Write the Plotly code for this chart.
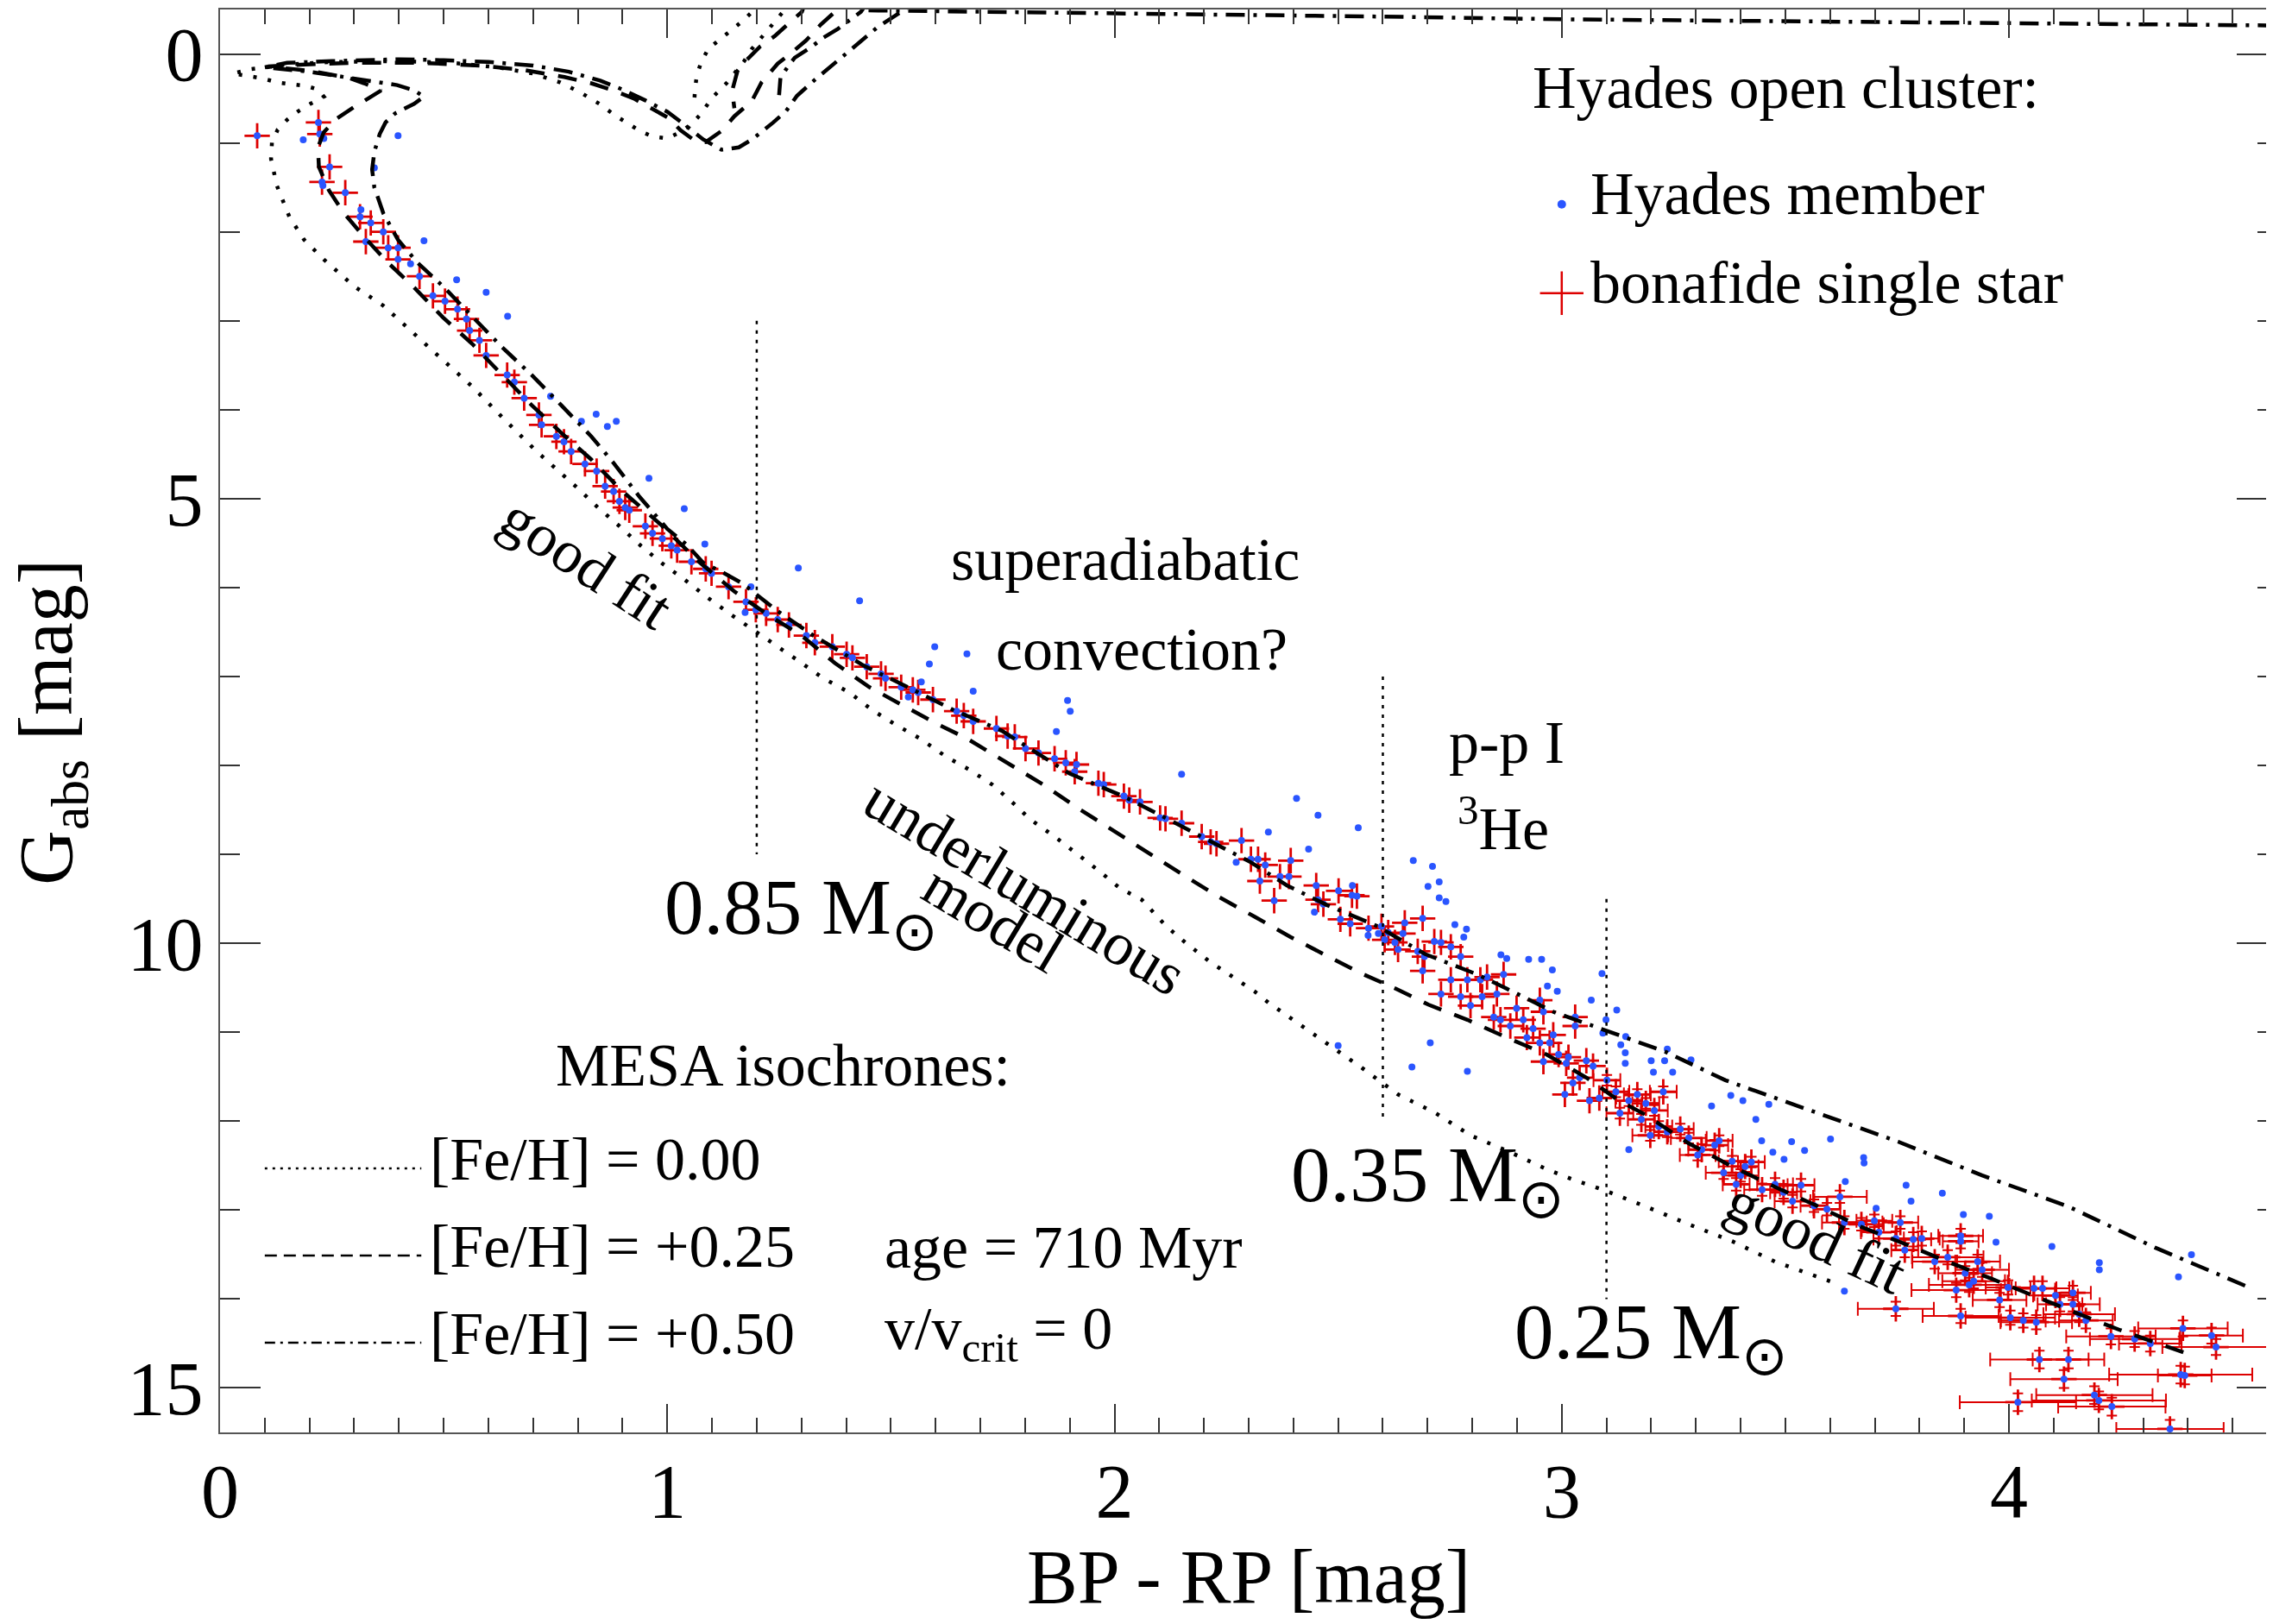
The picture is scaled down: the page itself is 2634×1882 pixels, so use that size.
import plotly.graph_objects as go

FONT = "Liberation Serif, Times New Roman, serif"
RED = "#dd0000"
BLUE = "#2a55ff"

# bonafide single stars, BP-RP [mag] and G_abs [mag] (bright / intermediate part)
RED_X = [0.083, 0.22, 0.223, 0.245, 0.228, 0.28, 0.313, 0.337, 0.365, 0.326, 0.376, 0.398, 0.398,
         0.446, 0.476, 0.503, 0.531, 0.551, 0.558, 0.58, 0.595, 0.642, 0.658, 0.68, 0.713, 0.719,
         0.752, 0.769, 0.785,
         0.816, 0.842, 0.861, 0.88, 0.893, 0.906, 0.915, 0.951, 0.967, 0.989, 1.009, 1.022, 1.054,
         1.086, 1.099, 1.137, 1.176, 1.198, 1.221, 1.247, 1.272, 1.311, 1.33, 1.369, 1.401, 1.414,
         1.446, 1.478, 1.488, 1.523, 1.549, 1.561,
         1.594, 1.647, 1.663, 1.684, 1.736, 1.761, 1.777, 1.801, 1.83, 1.866, 1.891, 1.915, 1.911,
         1.964, 1.976, 2.021, 2.033, 2.057, 2.102, 2.114, 2.15, 2.195, 2.215, 2.228, 2.284, 2.305,
         2.321, 2.337, 2.325, 2.37, 2.39, 2.394, 2.357, 2.451, 2.455, 2.467,
         2.501, 2.531, 2.542, 2.505, 2.527, 2.568, 2.597, 2.612, 2.649, 2.645, 2.689, 2.604, 2.634,
         2.627, 2.678, 2.693, 2.689, 2.715, 2.73, 2.752, 2.774, 2.73, 2.752, 2.774, 2.796, 2.789,
         2.818, 2.833, 2.822, 2.855, 2.87, 2.848, 2.863, 2.885, 2.899, 2.914, 2.922, 2.936, 2.951,
         2.959, 2.981, 2.973, 2.951, 2.959, 2.993, 3.015, 3.03, 3.03, 3.055, 3.07, 3.01, 3.04,
         3.025, 3.007, 3.062, 3.084]
RED_Y = [0.92, 0.77, 0.90, 1.27, 1.44, 1.56, 1.83, 1.90, 2.0, 2.11, 2.18, 2.18, 2.31,
         2.50, 2.72, 2.78, 2.87, 2.98, 3.11, 3.22, 3.39, 3.61, 3.69, 3.87, 4.06, 4.17,
         4.30, 4.36, 4.47,
         4.61, 4.69, 4.86, 4.92, 5.03, 5.10, 5.13, 5.31, 5.39, 5.45, 5.53, 5.58, 5.71,
         5.79, 5.84, 5.99, 6.16, 6.25, 6.29, 6.36, 6.42, 6.54, 6.62, 6.665, 6.75, 6.79,
         6.89, 6.97, 7.02, 7.12, 7.15, 7.18,
         7.26, 7.39, 7.44, 7.505, 7.585, 7.67, 7.68, 7.81, 7.86, 7.925, 7.97, 7.99, 8.07,
         8.2, 8.215, 8.345, 8.39, 8.41, 8.59, 8.6, 8.65, 8.8, 8.86, 8.88, 8.845, 9.055,
         9.055, 9.12, 9.3, 9.25, 9.25, 9.07, 9.52, 9.35, 9.51, 9.56,
         9.41, 9.46, 9.47, 9.73, 9.78, 9.83, 9.81, 9.88, 9.77, 9.89, 9.72, 9.96, 10.07,
         9.99, 10.09, 10.15, 10.31, 9.98, 9.99, 10.04, 10.15, 10.57, 10.41, 10.6, 10.7, 10.41,
         10.41, 10.38, 10.6, 10.57, 10.35, 10.83, 10.86, 10.93, 10.73, 10.86, 11.06, 10.96, 10.64,
         10.77, 11.03, 11.12, 11.12, 11.33, 11.25, 11.28, 10.83, 10.93, 11.32, 11.38, 11.35, 11.51,
         11.57, 11.70, 11.77, 11.74]

# faint bonafide single stars with their errors
FAINT_X = [3.101, 3.121, 3.15, 3.169, 3.188, 3.207, 3.227, 3.13, 3.178, 3.217, 3.198, 3.236, 3.265,
           3.284, 3.313, 3.342, 3.352, 3.304, 3.381, 3.362, 3.41, 3.424, 3.40, 3.39, 3.448, 3.477,
           3.496, 3.535, 3.516, 3.564, 3.593, 3.622, 3.632, 3.67, 3.699, 3.709, 3.757, 3.747, 3.786,
           3.805, 3.767, 3.834, 3.863, 3.892, 3.892, 3.902, 3.921, 3.93, 3.94, 3.911, 3.882, 3.747,
           3.892, 3.979, 3.998, 4.003, 4.032, 4.056, 4.075, 4.061, 4.104, 4.114, 4.143, 4.143, 4.157,
           4.172, 4.228, 4.281, 4.316, 4.389, 4.453, 4.463, 4.068, 4.133, 4.123, 4.384, 4.393, 4.02,
           4.191, 4.201, 4.23, 4.36]
FAINT_Y = [11.54, 11.67, 11.77, 11.70, 11.80, 11.88, 11.67, 11.91, 11.98, 12.06, 12.16, 12.12, 12.09,
           12.19, 12.32, 12.27, 12.22, 12.38, 12.45, 12.58, 12.51, 12.46, 12.61, 12.71, 12.77, 12.71,
           12.80, 12.72, 12.90, 12.95, 12.99, 12.85, 13.14, 13.16, 13.12, 13.25, 13.14, 13.32, 13.33,
           13.32, 13.45, 13.58, 13.53, 13.29, 13.35, 13.71, 13.80, 13.58, 13.67, 13.84, 13.90, 14.11,
           14.19, 14.01, 13.87, 14.21, 14.24, 13.88, 13.88, 14.26, 13.96, 14.06, 13.93, 14.06, 14.17,
           14.24, 14.42, 14.45, 14.50, 14.33, 14.41, 14.54, 14.68, 14.68, 14.90, 14.85, 14.86, 15.16,
           15.08, 15.14, 15.21, 15.46]
FAINT_EX = [0.03, 0.03, 0.03, 0.03, 0.03, 0.03, 0.03, 0.03, 0.03, 0.03, 0.04, 0.03, 0.03,
            0.04, 0.03, 0.03, 0.03, 0.04, 0.03, 0.04, 0.03, 0.03, 0.04, 0.03, 0.04, 0.04,
            0.03, 0.03, 0.04, 0.03, 0.03, 0.06, 0.05, 0.05, 0.04, 0.04, 0.04, 0.05, 0.04,
            0.04, 0.03, 0.05, 0.08, 0.05, 0.04, 0.06, 0.07, 0.05, 0.06, 0.09, 0.10, 0.085,
            0.085, 0.06, 0.05, 0.10, 0.05, 0.05, 0.06, 0.08, 0.05, 0.05, 0.04, 0.06, 0.08,
            0.06, 0.10, 0.10, 0.07, 0.10, 0.07, 0.12, 0.11, 0.08, 0.12, 0.16, 0.06, 0.13,
            0.13, 0.15, 0.12, 0.12]
FAINT_EY = [0.06, 0.06, 0.06, 0.06, 0.06, 0.06, 0.06, 0.06, 0.06, 0.06, 0.06, 0.06, 0.06,
            0.06, 0.06, 0.06, 0.06, 0.06, 0.06, 0.07, 0.06, 0.06, 0.07, 0.07, 0.07, 0.07,
            0.07, 0.07, 0.07, 0.07, 0.07, 0.07, 0.07, 0.07, 0.07, 0.07, 0.07, 0.08, 0.08,
            0.08, 0.08, 0.08, 0.08, 0.08, 0.08, 0.08, 0.08, 0.08, 0.08, 0.08, 0.08, 0.08,
            0.08, 0.08, 0.08, 0.08, 0.08, 0.08, 0.08, 0.08, 0.08, 0.08, 0.08, 0.08, 0.09,
            0.09, 0.09, 0.09, 0.09, 0.09, 0.09, 0.09, 0.10, 0.10, 0.10, 0.10, 0.10, 0.10,
            0.10, 0.10, 0.10, 0.10]

# Hyades members that are not bonafide single stars
EXTRA_X = [0.186, 0.232, 0.398, 0.345, 0.23, 0.315, 0.456, 0.426, 0.529, 0.595, 0.643, 0.739, 0.841,
           0.808, 0.866, 0.886,
           0.959, 1.038, 1.084, 1.187, 1.174, 1.293, 1.43, 1.539,
           1.598, 1.67, 1.586, 1.568, 1.684, 1.895, 1.901, 1.87, 2.15, 2.407, 2.455, 2.344, 2.545,
           2.434, 2.272, 2.668, 2.711, 2.532, 2.701, 2.447,
           2.726, 2.726, 2.741, 2.761, 2.787, 2.781, 2.864, 2.877, 2.926, 2.955, 2.979, 2.968, 2.99,
           3.09, 3.066, 3.123, 3.099, 3.092, 3.143, 2.5, 2.706, 2.665, 2.789, 2.567, 2.59,
           3.132, 3.142, 3.236, 3.289, 3.2, 3.23, 3.142, 3.205, 3.248, 3.378, 3.405, 3.463, 3.335,
           3.434, 3.447, 3.514, 3.601, 3.472, 3.543, 3.497, 3.675, 3.676, 3.634, 3.77, 3.851, 3.781,
           3.703, 3.898, 3.956, 3.971, 4.096, 4.408, 4.202, 4.202, 4.379, 3.15, 3.632]
EXTRA_Y = [0.965, 0.95, 0.92, 1.28, 1.48, 1.75, 2.10, 2.36, 2.54, 2.68, 2.95, 3.85, 4.05,
           4.13, 4.19, 4.13,
           4.77, 5.114, 5.51, 5.99, 6.28, 5.78, 6.15, 7.23,
           6.665, 6.745, 6.86, 7.06, 7.165, 7.27, 7.39, 7.62, 8.1, 8.37, 8.56, 8.75, 8.7,
           8.94, 9.09, 9.07, 9.135, 9.35, 9.36, 9.65,
           9.31, 9.49, 9.53, 9.79, 9.84, 9.93, 10.13, 10.17, 10.18, 10.18, 10.30, 10.48, 10.54,
           10.34, 10.64, 10.75, 10.86, 11.01, 11.05, 11.15, 11.12, 11.39, 11.44, 9.91, 9.89,
           11.14, 11.23, 11.19, 11.31, 11.32, 11.32, 11.35, 11.45, 11.45, 11.71, 11.77, 11.81, 11.83,
           11.98, 12.22, 12.23, 12.2, 12.35, 12.33, 12.43, 12.41, 12.47, 12.68, 12.72, 12.81, 12.9,
           12.98, 13.05, 13.07, 13.36, 13.41, 13.5, 13.59, 13.67, 13.75, 12.32, 13.91]

# MESA isochrones, 710 Myr; None separates branches
ISO_000_X = [3.6, 3.477, 3.381, 3.284, 3.188, 3.092, 3.032, 2.966, 2.885, 2.796, 2.715, 2.634, 2.553,
             2.501, 2.42, 2.345, 2.313, 2.264, 2.211, 2.158, 2.114, 2.061, 2.012, 1.964, 1.915, 1.866,
             1.81, 1.777, 1.728, 1.676, 1.623, 1.566, 1.51, 1.459, 1.407, 1.349, 1.298, 1.247, 1.195,
             1.144, 1.092, 1.041, 0.989, 0.941, 0.893, 0.845, 0.797, 0.708, 0.63, 0.564, 0.487, 0.42,
             0.365, 0.299, 0.232, 0.188, 0.155, 0.127, 0.114, 0.116, 0.129, 0.15, 0.176, 0.202, 0.232,
             0.219, 0.193, 0.159, 0.129, 0.09, 0.064, 0.028,
             0.07, 0.15, 0.25, 0.4, 0.52, 0.62, 0.7, 0.761, 0.805, 0.848, 0.883, 0.913, 0.94, 0.968,
             1.0, 1.028, 1.054, 1.076, 1.099, 1.134, 1.156, 1.172, 1.188, 1.208, 1.227, 1.253, 1.28,
             None, 1.2, 1.189, 1.166, 1.14, 1.115, 1.092, 1.076, 1.066, 1.062, 1.06]
ISO_000_Y = [13.8, 13.58, 13.35, 13.16, 12.96, 12.77, 12.67, 12.54, 12.35, 12.16, 11.9, 11.7, 11.4,
             11.22, 10.93, 10.67, 10.54, 10.38, 10.2, 9.99, 9.8, 9.51, 9.38, 9.18, 8.99, 8.8,
             8.6, 8.44, 8.22, 8.05, 7.9, 7.7, 7.54, 7.38, 7.18, 7.02, 6.84, 6.665, 6.49,
             6.31, 6.12, 5.92, 5.73, 5.53, 5.31, 5.1, 4.87, 4.47, 4.08, 3.74, 3.39, 3.09,
             2.83, 2.61, 2.31, 2.09, 1.83, 1.48, 1.18, 0.996, 0.85, 0.74, 0.64, 0.56, 0.48,
             0.40, 0.36, 0.34, 0.32, 0.27, 0.253, 0.22,
             0.17, 0.12, 0.09, 0.08, 0.1, 0.15, 0.22, 0.32, 0.43, 0.56, 0.69, 0.79, 0.87, 0.93,
             0.95, 0.88, 0.79, 0.67, 0.5, 0.32, 0.19, 0.08, -0.05, -0.17, -0.29, -0.44, -0.6,
             None, -0.6, -0.47, -0.36, -0.25, -0.15, -0.06, 0.09, 0.24, 0.4, 0.56]

ISO_025_X = [4.39, 4.249, 4.152, 4.056, 3.96, 3.863, 3.767, 3.67, 3.574, 3.477, 3.381, 3.284, 3.188,
             3.128, 3.055, 2.966, 2.877, 2.789, 2.702, 2.629, 2.548, 2.467, 2.394, 2.313, 2.232, 2.15,
             2.077, 1.996, 1.915, 1.842, 1.761, 1.671, 1.598, 1.533, 1.452, 1.375, 1.3, 1.22, 1.149,
             1.073, 0.985, 0.896, 0.83, 0.763, 0.697, 0.631, 0.564, 0.498, 0.431, 0.376, 0.321, 0.277,
             0.243, 0.221, 0.219, 0.232, 0.26, 0.299, 0.33, 0.36, 0.322, 0.288, 0.202, 0.107,
             0.18, 0.3, 0.45, 0.58, 0.68, 0.77, 0.83, 0.873, 0.925, 0.97, 1.003, 1.03, 1.06, 1.086,
             1.121, 1.15, 1.189, 1.211, 1.247, 1.272, 1.31, 1.343, 1.372, 1.39,
             None, 1.31, 1.301, 1.279, 1.24, 1.208, 1.176, 1.157, 1.145, 1.15]
ISO_025_Y = [14.6, 14.35, 14.16, 13.96, 13.77, 13.58, 13.38, 13.19, 12.96, 12.74, 12.51, 12.25, 11.93,
             11.77, 11.51, 11.25, 11.06, 10.86, 10.69, 10.51, 10.33, 10.12, 9.93, 9.7, 9.475, 9.22,
             8.99, 8.73, 8.47, 8.22, 7.97, 7.7, 7.52, 7.34, 7.12, 6.85, 6.54, 6.29, 6.04,
             5.72, 5.29, 4.9, 4.56, 4.26, 3.95, 3.61, 3.26, 2.96, 2.61, 2.35, 2.05, 1.79,
             1.53, 1.27, 1.05, 0.88, 0.73, 0.60, 0.5, 0.41, 0.33, 0.27, 0.19, 0.14,
             0.12, 0.1, 0.1, 0.13, 0.18, 0.26, 0.33, 0.4, 0.5, 0.62, 0.72, 0.86, 0.97, 0.99,
             0.867, 0.7, 0.53, 0.318, 0.108, 0.011, -0.15, -0.33, -0.46, -0.6,
             None, -0.6, -0.474, -0.377, -0.2, -0.086, 0.075, 0.19, 0.415, 0.61]

ISO_050_X = [4.528, 4.509, 4.326, 4.133, 3.94, 3.752, 3.555, 3.366, 3.232, 3.099, 2.981, 2.877, 2.811,
             2.694, 2.589, 2.475, 2.386, 2.305, 2.207, 2.118, 2.021, 1.899, 1.748, 1.637, 1.55, 1.44,
             1.327, 1.245, 1.17, 1.128, 1.08, 1.044, 1.0, 0.973, 0.938, 0.88, 0.83, 0.763, 0.697,
             0.631, 0.564, 0.498, 0.442, 0.398, 0.365, 0.345, 0.34, 0.345, 0.357, 0.37, 0.391, 0.434,
             0.456, 0.434, 0.396, 0.3, 0.2, 0.1,
             0.15, 0.25, 0.4, 0.5, 0.6, 0.7, 0.78, 0.85, 0.9, 0.95, 1.0, 1.04, 1.08, 1.121, 1.16,
             1.19, 1.211, 1.237, 1.266, 1.29, 1.33, 1.37, 1.42, 1.47, 1.523, 1.56,
             None, 1.45, 1.433, 1.407, 1.381, 1.349, 1.324, 1.285, 1.272, 1.253, 1.25,
             None, 1.45, 1.8, 2.2, 2.6, 3.0, 3.4, 3.8, 4.2, 4.6]
ISO_050_Y = [13.85, 13.81, 13.42, 12.96, 12.61, 12.23, 11.88, 11.54, 11.22, 10.98, 10.77, 10.51, 10.35,
             10.12, 9.81, 9.57, 9.35, 9.09, 8.83, 8.6, 8.35, 8.09, 7.61, 7.37, 7.15, 6.88,
             6.54, 6.26, 5.96, 5.84, 5.72, 5.52, 5.34, 5.18, 4.98, 4.6, 4.3, 3.95, 3.61,
             3.3, 2.96, 2.61, 2.35, 2.09, 1.79, 1.5, 1.3, 1.1, 0.9, 0.77, 0.67, 0.56,
             0.48, 0.41, 0.35, 0.28, 0.2, 0.15,
             0.1, 0.08, 0.06, 0.07, 0.09, 0.13, 0.2, 0.3, 0.4, 0.52, 0.65, 0.8, 0.96, 1.077, 1.05,
             0.96, 0.876, 0.77, 0.64, 0.47, 0.29, 0.12, -0.09, -0.3, -0.474, -0.6,
             None, -0.6, -0.474, -0.377, -0.28, -0.183, -0.086, 0.043, 0.124, 0.27, 0.463,
             None, -0.49, -0.47, -0.45, -0.42, -0.39, -0.37, -0.355, -0.34, -0.32]

# stellar mass markers (colour, top and bottom of the marker line)
MASS_X = [1.2, 2.6, 3.1]
MASS_TOP = [3.0, 7.0, 9.5]
MASS_BOTTOM = [9.0, 12.0, 14.0]
MASS_LABELS = ["0.85", "0.35", "0.25"]

ISO_LABELS = ["[Fe/H] = 0.00", "[Fe/H] = +0.25", "[Fe/H] = +0.50"]

fig = go.Figure()

# bonafide single stars
fig.add_trace(go.Scatter(
    x=RED_X, y=RED_Y, mode='markers',
    marker=dict(symbol='cross-thin', size=21, line=dict(color=RED, width=2.8), color=RED),
))
fig.add_trace(go.Scatter(
    x=FAINT_X, y=FAINT_Y, mode='markers',
    marker=dict(symbol='cross-thin', size=21, line=dict(color=RED, width=2.8), color=RED),
    error_x=dict(type='data', array=FAINT_EX, color=RED, thickness=2, width=8),
    error_y=dict(type='data', array=FAINT_EY, color=RED, thickness=2, width=6),
))

# all Hyades members
fig.add_trace(go.Scatter(
    x=RED_X + FAINT_X + EXTRA_X, y=RED_Y + FAINT_Y + EXTRA_Y, mode='markers',
    marker=dict(color=BLUE, size=8, line=dict(width=0)),
))

# isochrones
styles = [("4px,13px", 4.5), ("22px,16px", 4.5), ("22px,10px,4px,10px", 4.5)]
for (xs, ys), (dash, w) in zip([(ISO_000_X, ISO_000_Y), (ISO_025_X, ISO_025_Y),
                                 (ISO_050_X, ISO_050_Y)], styles):
    fig.add_trace(go.Scatter(x=xs, y=ys, mode='lines',
                             line=dict(color='black', width=w, dash=dash)))

# mass markers
for mx, y0, y1 in zip(MASS_X, MASS_TOP, MASS_BOTTOM):
    fig.add_trace(go.Scatter(x=[mx, mx], y=[y0, y1], mode='lines',
                             line=dict(color='black', width=2.5, dash="4px,7px")))

annotations = []


def text(x, y, s, size=70, xanchor='center', angle=0):
    annotations.append(dict(x=x, y=y, text=s, showarrow=False, xanchor=xanchor, yanchor='middle',
                            textangle=angle, font=dict(family=FONT, size=size, color='black')))


mass_pos = [(0.99, 9.66), (2.39, 12.67), (2.89, 14.43)]
for (lx, ly), lab in zip(mass_pos, MASS_LABELS):
    text(lx, ly, lab + " M<sub>⊙</sub>", size=91, xanchor='left')

# legend: Hyades
text(2.93, 0.38, "Hyades open cluster:", xanchor='left')
fig.add_trace(go.Scatter(x=[3.0], y=[1.69], mode='markers',
                         marker=dict(color=BLUE, size=10)))
text(3.06, 1.57, "Hyades member", xanchor='left')
fig.add_trace(go.Scatter(x=[3.0], y=[2.69], mode='markers',
                         marker=dict(symbol='cross-thin', size=36, line=dict(color=RED, width=2.5))))
text(3.06, 2.57, "bonafide single star", xanchor='left')

# legend: isochrones
text(1.259, 11.37, "MESA isochrones:")
legend_dash = ["3px,6px", "14px,8px", "12px,6px,3px,6px"]
for row, (lab, dash) in enumerate(zip(ISO_LABELS, legend_dash)):
    ry = 12.53 + row * 0.98
    fig.add_trace(go.Scatter(x=[0.1, 0.45], y=[ry, ry], mode='lines',
                             line=dict(color='black', width=2.5, dash=dash)))
    text(0.465, ry - 0.1, lab, xanchor='left')
text(1.482, 13.42, "age = 710 Myr", xanchor='left')
text(1.482, 14.38, "v/v<sub>crit</sub> = 0", xanchor='left')

# remarks
text(0.82, 5.72, "good fit", angle=33)
text(3.57, 13.3, "good fit", angle=25)
text(2.025, 5.69, "superadiabatic")
text(2.06, 6.69, "convection?")
text(1.80, 9.36, "underluminous", angle=31)
text(1.73, 9.72, "model", angle=31)
text(2.877, 7.74, "p-p I")
text(2.87, 8.66, "<sup>3</sup>He")

# axis titles
annotations.append(dict(xref='paper', yref='paper', x=0.5, y=-0.1015, text="BP - RP [mag]",
                        showarrow=False, xanchor='center', yanchor='middle',
                        font=dict(family=FONT, size=88, color='black')))
annotations.append(dict(xref='paper', yref='paper', x=-0.082, y=0.499, text="G<sub>abs</sub> [mag]",
                        showarrow=False, xanchor='center', yanchor='middle', textangle=-90,
                        font=dict(family=FONT, size=88, color='black')))

axis_common = dict(showgrid=False, zeroline=False, showline=True, linecolor='#555', linewidth=2,
                   ticks='inside', mirror='ticks', tickcolor='#333', tickwidth=2,
                   tickfont=dict(family=FONT, size=88, color='black'))

fig.update_layout(
    width=2634, height=1882,
    margin=dict(l=247, r=3, t=1, b=230),
    paper_bgcolor='white', plot_bgcolor='white',
    showlegend=False,
    annotations=annotations,
    xaxis=dict(range=[0, 4.6], tickvals=[0, 1, 2, 3, 4], ticklen=33, ticklabelstandoff=-10,
               minor=dict(tick0=0, dtick=0.1, ticklen=17, tickwidth=2, tickcolor='#333',
                          ticks='inside'),
               **axis_common),
    yaxis=dict(range=[15.5, -0.5], tickvals=[0, 5, 10, 15], ticklen=47,
               minor=dict(tick0=0, dtick=1, ticklen=23, tickwidth=2, tickcolor='#333',
                          ticks='inside'),
               **axis_common),
)

fig.write_html("out.html")
